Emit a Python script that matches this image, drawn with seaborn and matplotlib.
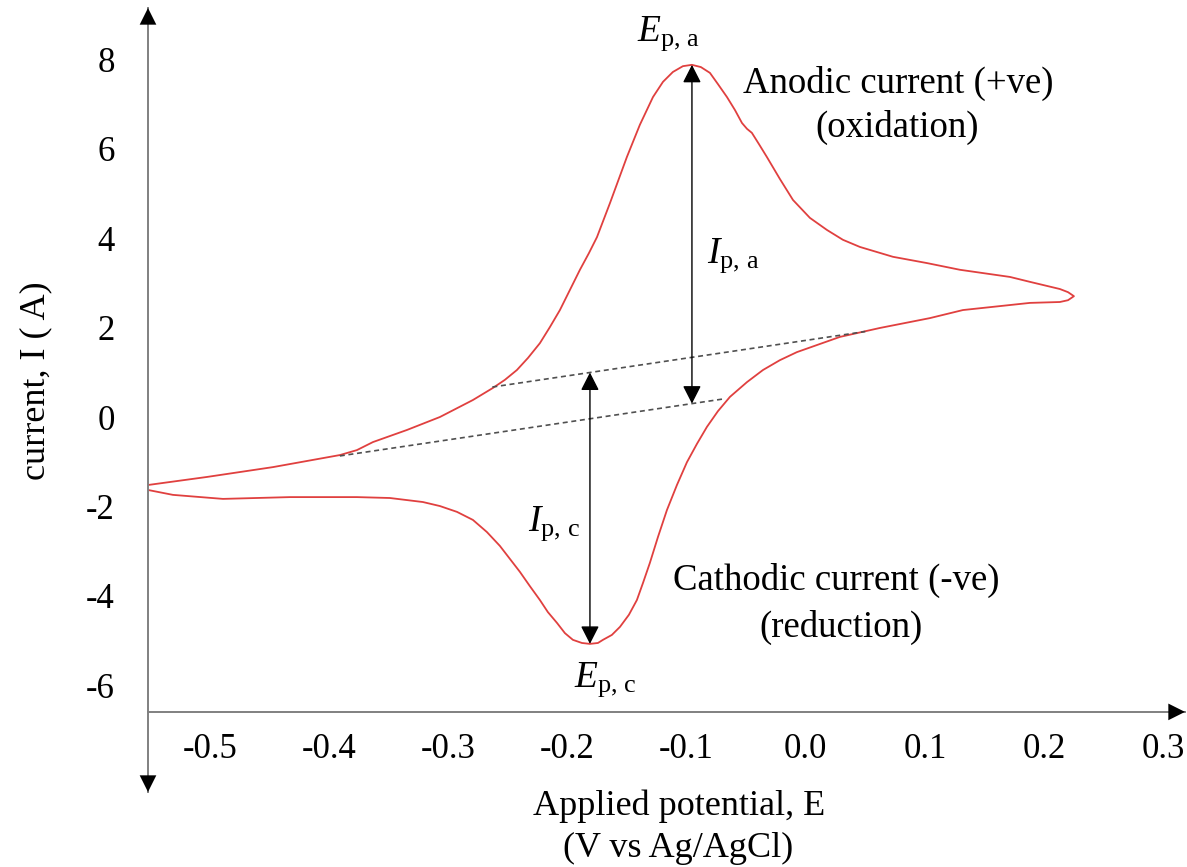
import numpy as np
import pandas as pd
import matplotlib
matplotlib.use("Agg")
import matplotlib.pyplot as plt
import seaborn as sns

# Cyclic voltammogram: forward (oxidation) sweep, then reverse (reduction) sweep
fwd_E = [-0.5521, -0.5026, -0.4472, -0.3909, -0.3767, -0.3632, -0.3347, -0.3070,
         -0.2793, -0.2625, -0.2525, -0.2424, -0.2331, -0.2231, -0.2147, -0.2063,
         -0.1979, -0.1895, -0.1820, -0.1752, -0.1643, -0.1501, -0.1392, -0.1282,
         -0.1198, -0.1115, -0.1031, -0.0955, -0.0880, -0.0804, -0.0737, -0.0661,
         -0.0594, -0.0535, -0.0493, -0.0452, -0.0393, -0.0326, -0.0217, -0.0107,
         0.0035, 0.0178, 0.0312, 0.0455, 0.0732, 0.1017, 0.1294, 0.1714,
         0.1882, 0.2133, 0.2201, 0.2251]
fwd_I = [-1.52, -1.34, -1.12, -0.85, -0.74, -0.56, -0.29, 0.00,
         0.38, 0.65, 0.83, 1.05, 1.32, 1.65, 2.01, 2.39,
         2.84, 3.29, 3.66, 4.02, 4.78, 5.81, 6.53, 7.15,
         7.49, 7.71, 7.84, 7.87, 7.82, 7.69, 7.44, 7.15,
         6.86, 6.57, 6.44, 6.35, 6.10, 5.81, 5.32, 4.85,
         4.45, 4.18, 3.96, 3.80, 3.58, 3.44, 3.29, 3.13,
         3.02, 2.86, 2.79, 2.70]
rev_E = [0.2201, 0.2133, 0.1882, 0.1319, 0.1042, 0.0623, 0.0287, -0.0074,
         -0.0217, -0.0359, -0.0493, -0.0636, -0.0737, -0.0829, -0.0913, -0.0997,
         -0.1081, -0.1165, -0.1240, -0.1308, -0.1366, -0.1417, -0.1484, -0.1559,
         -0.1627, -0.1702, -0.1744, -0.1811, -0.1878, -0.1954, -0.2021, -0.2088,
         -0.2164, -0.2231, -0.2315, -0.2399, -0.2483, -0.2567, -0.2676, -0.2793,
         -0.2927, -0.3070, -0.3213, -0.3490, -0.3767, -0.4329, -0.4891, -0.5311,
         -0.5521]
rev_I = [2.61, 2.57, 2.55, 2.39, 2.21, 1.99, 1.79, 1.45,
         1.27, 1.05, 0.78, 0.45, 0.13, -0.22, -0.60, -1.01,
         -1.52, -2.08, -2.68, -3.26, -3.71, -4.09, -4.42, -4.69,
         -4.87, -4.98, -5.05, -5.07, -5.05, -4.98, -4.83, -4.60,
         -4.36, -4.09, -3.78, -3.46, -3.17, -2.88, -2.57, -2.30,
         -2.12, -1.99, -1.90, -1.81, -1.79, -1.79, -1.83, -1.74,
         -1.63]

# Extrapolated baselines used for reading the peak currents
base_c_E = [-0.263, 0.050]
base_c_I = [0.67, 1.91]
base_a_E = [-0.391, -0.070]
base_a_I = [-0.87, 0.40]

x_ticks = [-0.5, -0.4, -0.3, -0.2, -0.1, 0.0, 0.1, 0.2, 0.3]
x_labels = ["-0.5", "-0.4", "-0.3", "-0.2", "-0.1", "0.0", "0.1", "0.2", "0.3"]
y_ticks = [-6, -4, -2, 0, 2, 4, 6, 8]
y_labels = ["-6", "-4", "-2", "0", "2", "4", "6", "8"]

sns.set_theme(style="white")
plt.rcParams["font.family"] = ["Liberation Serif", "DejaVu Serif"]
plt.rcParams["text.color"] = "black"
plt.rcParams["mathtext.fontset"] = "custom"
plt.rcParams["mathtext.rm"] = "Liberation Serif"
plt.rcParams["mathtext.it"] = "Liberation Serif:italic"

W, H = 1187, 867
fig = plt.figure(figsize=(W / 100, H / 100), dpi=100)
ax = fig.add_axes([148 / W, 1 - 792 / H, (1185 - 148) / W, (792 - 8) / H])
ax.set_xlim(-0.552, 0.3183)
ax.set_ylim(-8.38, 9.14)

cv = pd.DataFrame({
    "E": fwd_E + rev_E,
    "I": fwd_I + rev_I,
})
sns.lineplot(data=cv, x="E", y="I", sort=False, estimator=None,
             color="#e0403f", lw=1.3, ax=ax,
             solid_joinstyle="round", solid_capstyle="round")

dash_kw = dict(color="#505050", lw=1.2, dashes=(3, 2.2))
sns.lineplot(x=base_c_E, y=base_c_I, ax=ax, **dash_kw)
sns.lineplot(x=base_a_E, y=base_a_I, ax=ax, **dash_kw)

# Peak positions and baseline-corrected peak currents
ia = int(np.argmax(fwd_I))
Epa, Ipa_top = fwd_E[ia], fwd_I[ia]
Ipa_bot = float(np.interp(Epa, base_a_E, base_a_I))
ic = int(np.argmin(rev_I))
Epc, Ipc_bot = rev_E[ic], rev_I[ic]
Ipc_top = float(np.interp(Epc, base_c_E, base_c_I))

arrow_kw = dict(arrowstyle="<|-|>,head_length=0.55,head_width=0.28",
                color="black", lw=1.0, shrinkA=0, shrinkB=0, mutation_scale=20)
ax.annotate("", xy=(Epa, Ipa_top), xytext=(Epa, Ipa_bot), arrowprops=arrow_kw)
ax.annotate("", xy=(Epc, Ipc_top), xytext=(Epc, Ipc_bot), arrowprops=arrow_kw)

# Axes drawn as arrows
for s in ["top", "right"]:
    ax.spines[s].set_visible(False)
ax.spines["bottom"].set_position(("data", -6.59))
for s in ["left", "bottom"]:
    ax.spines[s].set_color("#808080")
    ax.spines[s].set_linewidth(1.4)
head_kw = dict(arrowstyle="-|>,head_length=0.6,head_width=0.3", color="black",
               lw=0, shrinkA=0, shrinkB=0, mutation_scale=20)
xl = ax.get_xlim()
yl = ax.get_ylim()
ax.annotate("", xy=(xl[0], yl[1]), xytext=(xl[0], yl[1] - 0.5),
            arrowprops=head_kw, annotation_clip=False)
ax.annotate("", xy=(xl[0], yl[0]), xytext=(xl[0], yl[0] + 0.5),
            arrowprops=head_kw, annotation_clip=False)
ax.annotate("", xy=(xl[1], -6.59), xytext=(xl[1] - 0.02, -6.59),
            arrowprops=head_kw, annotation_clip=False)

ax.set_xticks(x_ticks, x_labels)
ax.set_yticks(y_ticks, y_labels)
ax.tick_params(axis="both", length=0, labelsize=25, colors="black")
ax.tick_params(axis="y", pad=24)
ax.tick_params(axis="x", pad=15)
ax.set_xlabel("")
ax.set_ylabel("")

fs = 26
fig.text(36 / W, 1 - 381 / H, "current, I ( A)", rotation=90,
         ha="center", va="center", fontsize=fs)
fig.text(679 / W, 1 - 815 / H, "Applied potential, E", ha="center",
         va="baseline", fontsize=fs)
fig.text(678 / W, 1 - 857 / H, "(V vs Ag/AgCl)", ha="center",
         va="baseline", fontsize=fs)

ax.text(-0.1148, 8.42, r"$E_{\mathrm{p,\,a}}$", ha="center", va="baseline", fontsize=27)
ax.text(-0.0611, 3.44, r"$I_{\mathrm{p,\,a}}$", ha="center", va="baseline", fontsize=27)
ax.text(-0.2113, -2.53, r"$I_{\mathrm{p,\,c}}$", ha="center", va="baseline", fontsize=27)
ax.text(-0.1685, -6.03, r"$E_{\mathrm{p,\,c}}$", ha="center", va="baseline", fontsize=27)

ax.text(0.0774, 7.24, "Anodic current (+ve)", ha="center", va="baseline", fontsize=26.5)
ax.text(0.0765, 6.26, "(oxidation)", ha="center", va="baseline", fontsize=26.5)
ax.text(0.0253, -3.87, "Cathodic current (-ve)", ha="center", va="baseline", fontsize=26.5)
ax.text(0.0295, -4.92, "(reduction)", ha="center", va="baseline", fontsize=26.5)

fig.savefig("out.png", dpi=100, facecolor="white")
